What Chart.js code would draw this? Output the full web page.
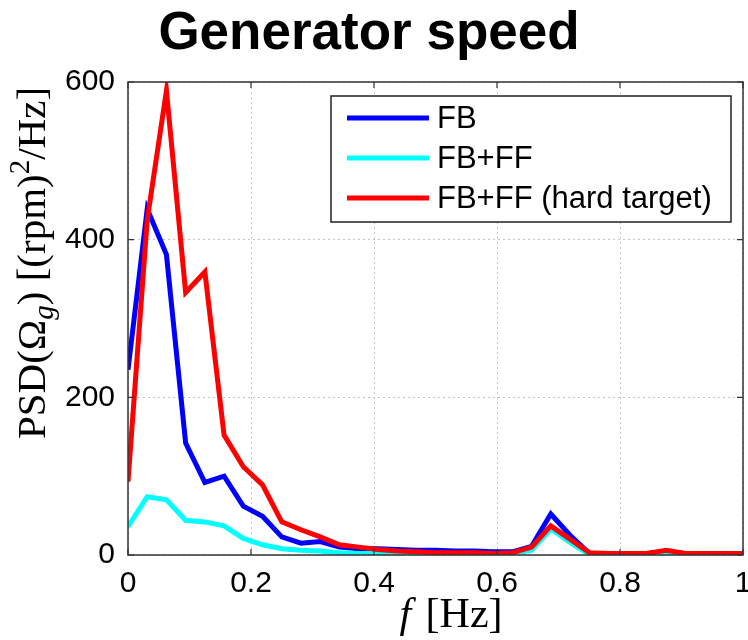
<!DOCTYPE html>
<html>
<head>
<meta charset="utf-8">
<script src="https://cdn.jsdelivr.net/npm/chart.js@4.4.0/dist/chart.umd.min.js"></script>
<style>
  html, body { margin: 0; padding: 0; background: #fff; }
  #wrap { width: 748px; height: 640px; }
</style>
</head>
<body>
<div id="wrap"><canvas id="myChart" width="748" height="640"></canvas></div>
<script>
// frequency bins [Hz]
const freqs = [0, 0.03125, 0.0625, 0.09375, 0.125, 0.15625, 0.1875, 0.21875, 0.25, 0.28125,
  0.3125, 0.34375, 0.375, 0.40625, 0.4375, 0.46875, 0.5, 0.53125, 0.5625, 0.59375,
  0.625, 0.65625, 0.6875, 0.71875, 0.75, 0.78125, 0.8125, 0.84375, 0.875, 0.90625,
  0.9375, 0.96875, 1];

const psdFB = [235, 439, 381, 142, 92, 100, 62, 49, 23, 15,
  17, 10, 8, 8, 7, 6, 6, 5, 5, 4,
  4, 11, 52, 25, 2, 2, 2, 2, 4, 2,
  2, 2, 2];

const psdFBFF = [36, 74, 70, 44, 42, 37, 21, 13, 8, 6,
  5, 3, 2, 2, 1.5, 1, 1, 1, 1, 1,
  2, 6, 33, 16, 0.5, 0.5, 0.5, 0.5, 2, 0.5,
  0.5, 0.5, 0.5];

const psdHard = [93, 425, 589, 333, 359, 152, 112, 89, 42, 32,
  23, 13, 10, 7, 5, 4, 3, 3, 3, 2,
  3, 10, 37, 20, 3, 2, 2, 2, 6, 2,
  2, 2, 2];

const seriesNames = ["FB", "FB+FF", "FB+FF (hard target)"];
const seriesColors = ["#0000ff", "#00ffff", "#ff0000"];

const xTicks = [0, 0.2, 0.4, 0.6, 0.8, 1];
const yTicks = [0, 200, 400, 600];

function toPoints(vals) {
  return vals.map((v, i) => ({ x: freqs[i], y: v }));
}

const sans = "'Liberation Sans', Arial, sans-serif";
const serif = "'Liberation Serif', 'DejaVu Serif', serif";

// title, axis labels, frame and legend drawn like the matlab figure
const decor = {
  id: "decor",
  afterDatasetsDraw(chart) {
    const ctx = chart.ctx;
    const a = chart.chartArea;
    const xs = chart.scales.x, ys = chart.scales.y;

    // inward tick marks
    ctx.save();
    ctx.strokeStyle = "#333";
    ctx.lineWidth = 1.2;
    xTicks.forEach(t => {
      const px = xs.getPixelForValue(t);
      ctx.beginPath();
      ctx.moveTo(px, a.bottom); ctx.lineTo(px, a.bottom - 6);
      ctx.moveTo(px, a.top); ctx.lineTo(px, a.top + 6);
      ctx.stroke();
    });
    yTicks.forEach(t => {
      const py = ys.getPixelForValue(t);
      ctx.beginPath();
      ctx.moveTo(a.left, py); ctx.lineTo(a.left + 6, py);
      ctx.moveTo(a.right, py); ctx.lineTo(a.right - 6, py);
      ctx.stroke();
    });
    // box
    ctx.lineWidth = 1.5;
    ctx.strokeRect(a.left, a.top, a.right - a.left, a.bottom - a.top);

    // legend
    const lx = 331, ly = 96, lw = 400, lh = 126;
    ctx.fillStyle = "#fff";
    ctx.fillRect(lx, ly, lw, lh);
    ctx.strokeStyle = "#222";
    ctx.lineWidth = 1.5;
    ctx.strokeRect(lx, ly, lw, lh);
    ctx.font = "31px " + sans;
    ctx.textBaseline = "middle";
    ctx.textAlign = "left";
    seriesNames.forEach((name, i) => {
      const y = 118 + i * 40;
      ctx.strokeStyle = seriesColors[i];
      ctx.lineWidth = 5;
      ctx.beginPath();
      ctx.moveTo(347, y); ctx.lineTo(429, y);
      ctx.stroke();
      ctx.fillStyle = "#000";
      ctx.fillText(name, 437, y + 1);
    });

    // title
    ctx.font = "bold 53px " + sans;
    ctx.textAlign = "center";
    ctx.textBaseline = "alphabetic";
    ctx.fillText("Generator speed", 369, 49);

    // x label: f [Hz]
    ctx.textAlign = "left";
    ctx.font = "italic 42px " + serif;
    const fW = ctx.measureText("f").width;
    ctx.font = "42px " + serif;
    const restW = ctx.measureText(" [Hz]").width;
    let x0 = 449 - (fW + restW) / 2;
    ctx.font = "italic 42px " + serif;
    ctx.fillText("f", x0, 627);
    ctx.font = "42px " + serif;
    ctx.fillText(" [Hz]", x0 + fW + 4, 627);

    // y label: PSD(Omega_g) [(rpm)^2/Hz]
    const parts = [
      { t: "PSD(Ω", f: "41px " + serif, dy: 0 },
      { t: "g", f: "italic 29px " + serif, dy: 8 },
      { t: ") [(rpm)", f: "41px " + serif, dy: 0 },
      { t: "2", f: "29px " + serif, dy: -16 },
      { t: "/Hz]", f: "41px " + serif, dy: 0 }
    ];
    let total = 0;
    parts.forEach(p => { ctx.font = p.f; p.w = ctx.measureText(p.t).width; total += p.w; });
    ctx.translate(45, 263);
    ctx.rotate(-Math.PI / 2);
    let cx = -total / 2;
    parts.forEach(p => {
      ctx.font = p.f;
      ctx.fillText(p.t, cx, p.dy);
      cx += p.w;
    });
    ctx.restore();
  }
};

const config = {
  type: "line",
  data: {
    datasets: [
      { label: seriesNames[0], data: toPoints(psdFB), borderColor: seriesColors[0], order: 3 },
      { label: seriesNames[1], data: toPoints(psdFBFF), borderColor: seriesColors[1], order: 2 },
      { label: seriesNames[2], data: toPoints(psdHard), borderColor: seriesColors[2], order: 1 }
    ]
  },
  options: {
    responsive: false,
    animation: false,
    layout: { padding: { top: 82, right: 5, left: 0, bottom: 0 } },
    elements: {
      line: { borderWidth: 5, tension: 0, fill: false },
      point: { radius: 0 }
    },
    plugins: {
      legend: { display: false },
      title: { display: false },
      tooltip: { enabled: false }
    },
    scales: {
      x: {
        type: "linear",
        min: 0, max: 1,
        afterFit(scale) {
          scale.height = 85;
          scale.paddingLeft = 0;
          scale.paddingRight = 0;
        },
        afterBuildTicks(scale) { scale.ticks = xTicks.map(v => ({ value: v })); },
        grid: { color: "#c4c4c4", lineWidth: 1, drawTicks: false },
        border: { display: false, dash: [2, 3] },
        ticks: {
          padding: 11,
          color: "#000",
          font: { family: sans, size: 30 },
          callback: v => String(Math.round(v * 10) / 10)
        }
      },
      y: {
        min: 0, max: 600,
        afterFit(scale) {
          scale.width = 128;
          scale.paddingTop = 0;
          scale.paddingBottom = 0;
        },
        afterBuildTicks(scale) { scale.ticks = yTicks.map(v => ({ value: v })); },
        grid: { color: "#c4c4c4", lineWidth: 1, drawTicks: false },
        border: { display: false, dash: [2, 3] },
        ticks: {
          padding: 13,
          color: "#000",
          font: { family: sans, size: 30 }
        }
      }
    }
  },
  plugins: [decor]
};

const myChart = new Chart("myChart", config);
</script>
</body>
</html>
